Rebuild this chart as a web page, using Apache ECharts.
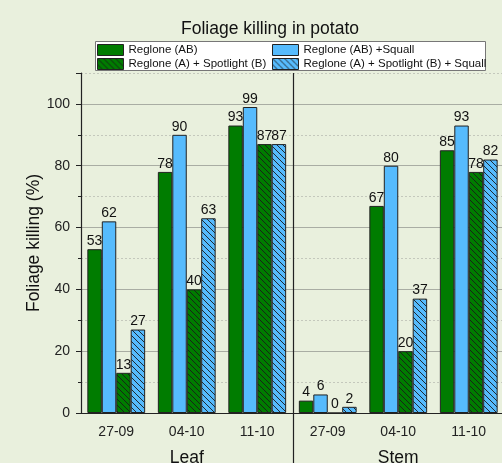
<!DOCTYPE html>
<html><head><meta charset="utf-8">
<script src="https://cdn.jsdelivr.net/npm/echarts@6/dist/echarts.min.js"></script>
<style>html,body{margin:0;padding:0;background:#e9f0dd;}#c{width:502px;height:463px;}</style>
</head><body><div id="c"></div>
<script>
const categories = ['27-09','04-10','11-10','27-09','04-10','11-10'];
const parts = ['Leaf','Stem'];
const regloneAB = [53, 78, 93, 4, 67, 85];
const regloneABSquall = [62, 90, 99, 6, 80, 93];
const regloneSpot = [13, 40, 87, 0, 20, 78];
const regloneSpotSquall = [27, 63, 87, 2, 37, 82];

const GREEN = '#007c00', BLUE = '#56bbfd';
function hatch(bg){
  const c = document.createElement('canvas'); c.width = 6; c.height = 6;
  const g = c.getContext('2d');
  g.fillStyle = bg; g.fillRect(0,0,6,6);
  g.strokeStyle = '#1a1a1a'; g.lineWidth = 0.9;
  for (const k of [-6,0,6]) { g.beginPath(); g.moveTo(k,0); g.lineTo(k+6,6); g.stroke(); }
  return {image: c, repeat: 'repeat'};
}
const FONT = 'Liberation Sans';
const chart = echarts.init(document.getElementById('c'), null, {renderer:'canvas'});
function bar(name, data, color){
  return {name, type:'bar', data, barGap:'0%', barCategoryGap:'18%',
    itemStyle:{color, borderColor:'#222', borderWidth:1},
    label:{show:true, position:'top', distance:1, fontSize:14, color:'#111', fontFamily:FONT}};
}
const legendBase = {orient:'vertical', top:44, padding:0, icon:'rect',
  itemWidth:26, itemHeight:11, itemGap:2,
  itemStyle:{borderColor:'#222', borderWidth:1},
  textStyle:{fontSize:11.5, color:'#111', lineHeight:12, padding:[0,0,0,0]}};
const boxGraphic = {type:'rect', shape:{x:95.5, y:41.5, width:390, height:29},
    style:{fill:'#fff', stroke:'#777', lineWidth:1}, z:-1};
chart.setOption({
  backgroundColor:'#e9f0dd',
  animation:false,
  textStyle:{fontFamily:FONT},
  title:{text:'Foliage killing in potato', left:270, textAlign:'center', top:20, padding:0,
    textStyle:{fontSize:17.5, fontWeight:'normal', color:'#111', fontFamily:FONT}},
  graphic:[boxGraphic],
  legend:[
    Object.assign({}, legendBase, {data:['Reglone (AB)','Reglone (A) + Spotlight (B)'], left:97}),
    Object.assign({}, legendBase, {data:['Reglone (AB) +Squall','Reglone (A) + Spotlight (B) + Squall'], left:272})
  ],
  grid:{left:81, top:73, width:423, height:340, containLabel:false, outerBoundsMode:'none'},
  xAxis:[
    {type:'category', data:categories, position:'bottom',
     axisLine:{lineStyle:{color:'#222', width:1.2}},
     axisTick:{alignWithLabel:true, length:5, lineStyle:{color:'#222'}},
     axisLabel:{fontSize:14, color:'#222', margin:12}},
    {type:'category', data:parts, position:'bottom', offset:33,
     axisLine:{show:false}, axisTick:{show:false},
     axisLabel:{fontSize:17.5, color:'#111', margin:3}}
  ],
  yAxis:[
    {type:'value', min:0, max:110, interval:10,
     name:'Foliage killing (%)', nameLocation:'middle', nameGap:38, nameRotate:90, nameMoveOverlap:false,
     nameTextStyle:{fontSize:17.5, color:'#111'},
     axisLine:{show:true, lineStyle:{color:'#222', width:1.2}},
     axisTick:{show:true, length:3, lineStyle:{color:'#222'}},
     axisLabel:{fontSize:14, color:'#222', margin:11, formatter:v => (v % 20 === 0 && v <= 100) ? String(v) : ''},
     splitLine:{show:true, lineStyle:{color:'#c4c8bc', type:[2,2], width:1}}},
    {type:'value', min:0, max:110, interval:20, position:'left',
     axisLine:{show:false}, axisLabel:{show:false},
     axisTick:{show:true, length:5, lineStyle:{color:'#222'}},
     splitLine:{show:true, showMaxLine:false, lineStyle:{color:'#a9ada3', width:1.2}}}
  ],
  series:[
    bar('Reglone (AB)', regloneAB, GREEN),
    bar('Reglone (AB) +Squall', regloneABSquall, BLUE),
    bar('Reglone (A) + Spotlight (B)', regloneSpot, hatch(GREEN)),
    bar('Reglone (A) + Spotlight (B) + Squall', regloneSpotSquall, hatch(BLUE))
  ]
});
const x2 = chart.convertToPixel({xAxisIndex:0}, 2), x3 = chart.convertToPixel({xAxisIndex:0}, 3);
const sx = Math.round((x2 + x3) / 2) + 0.5;
const yTop = chart.convertToPixel({yAxisIndex:0}, 110);
chart.setOption({graphic:[boxGraphic,
  {type:'line', shape:{x1:sx, y1:yTop, x2:sx, y2:463}, style:{stroke:'#222', lineWidth:1.2}, z:10}]});
</script></body></html>
